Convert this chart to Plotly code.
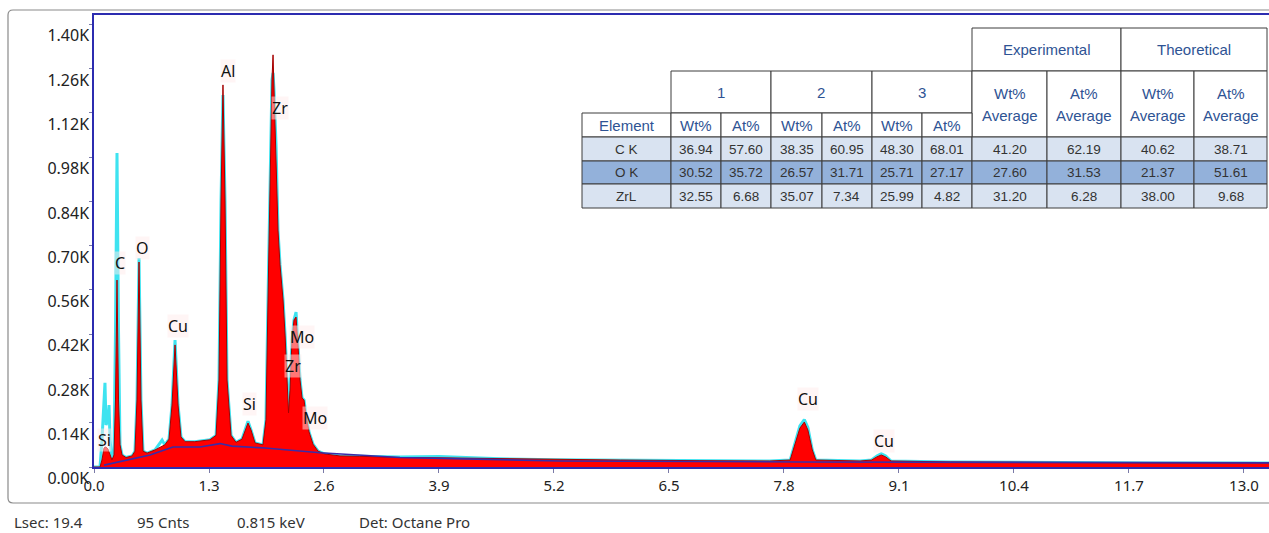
import plotly.graph_objects as go

# ---------------- spectrum data ----------------
kev = [0.000, 0.068, 0.090, 0.113, 0.124, 0.136, 0.158, 0.170, 0.181, 0.203,
       0.226, 0.243, 0.260, 0.277, 0.294, 0.317, 0.362, 0.430, 0.463, 0.486,
       0.509, 0.531, 0.554, 0.600, 0.690, 0.770, 0.800, 0.848, 0.882, 0.916,
       0.950, 0.983, 1.030, 1.140, 1.310, 1.380, 1.413, 1.436, 1.458, 1.481,
       1.504, 1.549, 1.605, 1.673, 1.707, 1.741, 1.775, 1.820, 1.910, 1.944,
       1.967, 1.990, 2.012, 2.024, 2.035, 2.058, 2.080, 2.103, 2.137, 2.160,
       2.182, 2.199, 2.216, 2.238, 2.261, 2.284, 2.306, 2.329, 2.352, 2.374,
       2.397, 2.431, 2.476, 2.533, 2.612, 2.781, 3.000, 3.460, 3.900, 4.590,
       5.200, 5.950, 6.850, 7.640, 7.870, 7.920, 7.980, 8.030, 8.070, 8.120,
       8.160, 8.660, 8.790, 8.850, 8.900, 8.950, 9.010, 9.680, 10.800, 11.940,
       13.283]

counts = [0, 0, 22, 60, 63, 63, 57, 47, 35, 22,
          38, 212, 591, 212, 70, 38, 30, 35, 50, 212,
          648, 212, 50, 44, 54, 64, 70, 88, 196, 386,
          196, 95, 80, 80, 86, 100, 275, 844, 1208, 844,
          275, 100, 78, 88, 117, 139, 117, 76, 70, 149,
          528, 939, 1224, 1303, 1192, 1018, 749, 639, 528, 417,
          275, 171, 243, 401, 465, 474, 386, 275, 218, 212,
          164, 111, 72, 50, 41, 35, 34, 30, 29, 26,
          23, 22, 20, 19, 22, 70, 123, 142, 117, 54,
          22, 19, 22, 32, 38, 32, 19, 16, 14, 13,
          13]

overlay = [0, 0, 85, 212, 266, 133, 149, 196, 85, 28,
           38, 433, 993, 433, 70, 38, 30, 35, 50, 212,
           661, 212, 50, 44, 54, 85, 70, 88, 196, 401,
           196, 95, 80, 80, 86, 100, 275, 844, 1176, 844,
           275, 100, 78, 88, 117, 145, 117, 76, 70, 149,
           528, 939, 1224, 1246, 1192, 1018, 749, 639, 528, 417,
           275, 171, 243, 401, 465, 490, 386, 275, 218, 212,
           164, 111, 72, 50, 41, 35, 34, 32, 33, 26,
           23, 22, 20, 19, 22, 70, 130, 150, 125, 54,
           22, 19, 22, 35, 42, 35, 19, 16, 14, 13,
           13]

bkg_kev = [0.113, 0.407, 0.633, 0.893, 1.198, 1.424, 1.560, 1.933, 2.556,
           3.459, 5.268, 7.981, 13.283]
bkg_counts = [6, 25, 38, 63, 63, 74, 66, 60, 45, 30, 19, 16, 13]

# peak identification labels (line energy, label height in counts)
peak_names = ["Si", "C", "O", "Cu", "Al", "Zr", "Si", "Mo", "Zr", "Mo", "Cu", "Cu"]
peak_kev = [0.113, 0.294, 0.543, 0.950, 1.515, 2.100, 1.763, 2.350, 2.250, 2.500, 8.070, 8.930]
peak_lbl = [85, 645, 692, 446, 1252, 1135, 199, 411, 319, 155, 215, 82]

x_ticks = [0.0, 1.3, 2.6, 3.9, 5.2, 6.5, 7.8, 9.1, 10.4, 11.7, 13.0]
y_ticks = [0, 140, 280, 420, 560, 700, 840, 980, 1120, 1260, 1400]

footer = ["Lsec: 19.4", "95 Cnts", "0.815 keV", "Det: Octane Pro"]

# ---------------- quantification table ----------------
elements = ["C K", "O K", "ZrL"]
s1_wt = [36.94, 30.52, 32.55]
s1_at = [57.60, 35.72, 6.68]
s2_wt = [38.35, 26.57, 35.07]
s2_at = [60.95, 31.71, 7.34]
s3_wt = [48.30, 25.71, 25.99]
s3_at = [68.01, 27.17, 4.82]
exp_wt = [41.20, 27.60, 31.20]
exp_at = [62.19, 31.53, 6.28]
theo_wt = [40.62, 21.37, 38.00]
theo_at = [38.71, 51.61, 9.68]

W, H = 1269, 533
ML, MR, MT, MB = 94, 0, 15, 66
PW, PH = W - ML - MR, H - MT - MB
X_MAX = 13.283
Y_MAX = 1429


def px(x):
    return (x - ML) / PW


def py(y):
    return (H - MB - y) / PH


fig = go.Figure()

fig.add_trace(go.Scatter(x=kev, y=overlay, mode="lines",
                         line=dict(color="#3ee3f0", width=3), hoverinfo="skip"))
fig.add_trace(go.Scatter(x=kev, y=counts, mode="lines", fill="tozeroy",
                         fillcolor="#ff0000", line=dict(color="#a40000", width=1),
                         hoverinfo="skip"))
fig.add_trace(go.Scatter(x=bkg_kev, y=bkg_counts, mode="lines",
                         line=dict(color="#3a2ca8", width=1.6), hoverinfo="skip"))

annotations = []
for name, e, c in zip(peak_names, peak_kev, peak_lbl):
    annotations.append(dict(x=e, y=c, xref="x", yref="y", text=name, showarrow=False,
                            font=dict(family="Noto Sans", size=16, color="#111"),
                            bgcolor="rgba(255,235,235,0.5)", borderpad=0,
                            xanchor="center", yanchor="middle"))

foot_x = [12, 135, 235, 357]
for t, fx in zip(footer, foot_x):
    annotations.append(dict(x=px(fx), y=py(522), xref="paper", yref="paper", text=t,
                            showarrow=False, xanchor="left", yanchor="middle",
                            font=dict(family="Noto Sans", size=15, color="#333")))

shapes = []
# outer rounded frame
fx0, fy0, fx1, fy1, r = 8, 10, 1290, 503, 5
path = (f"M {px(fx0 + r)} {py(fy0)} L {px(fx1)} {py(fy0)} "
        f"M {px(fx1)} {py(fy1)} L {px(fx0 + r)} {py(fy1)} "
        f"Q {px(fx0)} {py(fy1)} {px(fx0)} {py(fy1 - r)} "
        f"L {px(fx0)} {py(fy0 + r)} Q {px(fx0)} {py(fy0)} {px(fx0 + r)} {py(fy0)}")
shapes.append(dict(type="path", path=path, xref="paper", yref="paper",
                   line=dict(color="#8a8a8a", width=1.2), layer="below"))

# table geometry
cols = [582, 671, 721, 771, 822, 872, 922, 972, 1047, 1121, 1194, 1267]
rows = [137, 161, 184, 208]
border = "#3c3c3c"
hdr_col = "#2e5394"
row_fill = ["#d9e3f1", "#93b1da", "#d9e3f1"]
tfont = "Liberation Sans, Arial"


def cell(x0, y0, x1, y1, fill="white"):
    shapes.append(dict(type="rect", xref="paper", yref="paper",
                       x0=px(x0), x1=px(x1), y0=py(y1), y1=py(y0),
                       fillcolor=fill, line=dict(color=border, width=1), layer="above"))


def text(xc, yc, t, size=13.5, color="#333"):
    annotations.append(dict(x=px(xc), y=py(yc), xref="paper", yref="paper", text=t,
                            showarrow=False, xanchor="center", yanchor="middle",
                            font=dict(family=tfont, size=size, color=color)))


# group headers
cell(972, 28, 1121, 71)
text((972 + 1121) / 2, 49, "Experimental", 15, hdr_col)
cell(1121, 28, 1267, 71)
text((1121 + 1267) / 2, 49, "Theoretical", 15, hdr_col)
for i, lab in enumerate(["1", "2", "3"]):
    x0, x1 = cols[1 + 2 * i], cols[3 + 2 * i]
    cell(x0, 71, x1, 113)
    text((x0 + x1) / 2, 92, lab, 15, hdr_col)
for i, lab in enumerate(["Wt%", "At%", "Wt%", "At%"]):
    x0, x1 = cols[7 + i], cols[8 + i]
    cell(x0, 71, x1, 137)
    text((x0 + x1) / 2, 93, lab, 15, hdr_col)
    text((x0 + x1) / 2, 115, "Average", 15, hdr_col)
cell(582, 113, 671, 137)
text((582 + 671) / 2, 125, "Element", 15, hdr_col)
for i in range(6):
    x0, x1 = cols[1 + i], cols[2 + i]
    cell(x0, 113, x1, 137)
    text((x0 + x1) / 2, 125, "Wt%" if i % 2 == 0 else "At%", 15, hdr_col)

table_cols = [s1_wt, s1_at, s2_wt, s2_at, s3_wt, s3_at, exp_wt, exp_at, theo_wt, theo_at]
for r_i, el in enumerate(elements):
    y0, y1 = rows[r_i], rows[r_i + 1]
    cell(cols[0], y0, cols[1], y1, row_fill[r_i])
    text((cols[0] + cols[1]) / 2, (y0 + y1) / 2, el)
    for c_i, series in enumerate(table_cols):
        x0, x1 = cols[1 + c_i], cols[2 + c_i]
        cell(x0, y0, x1, y1, row_fill[r_i])
        text((x0 + x1) / 2, (y0 + y1) / 2, f"{series[r_i]:.2f}")

axis_blue = "#2c2cb0"
fig.update_layout(
    width=W, height=H, margin=dict(l=ML, r=MR, t=MT, b=MB),
    paper_bgcolor="white", plot_bgcolor="white", showlegend=False,
    annotations=annotations, shapes=shapes,
    xaxis=dict(range=[0, X_MAX], showline=True, linecolor=axis_blue, linewidth=1.5,
               mirror=True, ticks="outside", ticklen=4, tickcolor="#7a7aa8",
               tickvals=x_ticks, ticktext=[f"{v:.1f}" for v in x_ticks],
               tickfont=dict(family="Noto Sans", size=15, color="#222"),
               showgrid=False, zeroline=False, automargin=False),
    yaxis=dict(range=[0, Y_MAX], showline=True, linecolor=axis_blue, linewidth=1.5,
               ticks="outside", ticklen=3, tickcolor="#7a7aa8",
               tickvals=y_ticks, ticktext=[f"{v / 1000:.2f}K" for v in y_ticks],
               ticklabelposition="outside bottom",
               tickfont=dict(family="Noto Sans", size=16, color="#222"),
               showgrid=False, zeroline=False, automargin=False),
)

fig.write_html("out.html")
